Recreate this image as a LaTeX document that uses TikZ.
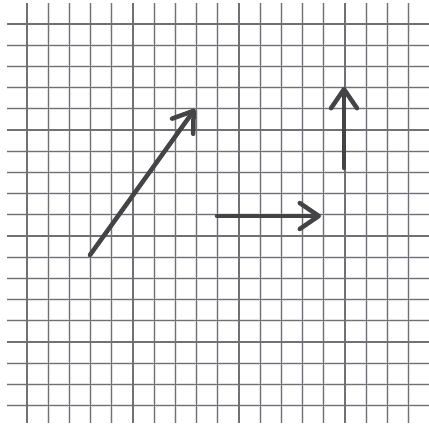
\documentclass[tikz,border=0pt]{standalone}
\usetikzlibrary{arrows.meta}
\definecolor{cGrid}{HTML}{707075}
\definecolor{cHalo}{HTML}{E0E0E3}
\definecolor{cVec}{HTML}{444446}

\begin{document}
\begin{tikzpicture}[
  x=0.05cm, y=-0.05cm,
  halo/.style={draw=cHalo, line width=4.2pt},
  gridln/.style={draw=cGrid, line width=1.8pt},
  vec/.style={draw=cVec, line width=6.4pt, line cap=round,
              -{Straight Barb[length=9.5mm, width=13mm, line cap=round, line join=round]}},
]
\useasboundingbox[fill=white] (0,0) rectangle (429,423);

% ---------------- squared paper ----------------
\foreach \k in {0,...,18} {
  \draw[halo] ({27+21.2*\k},3) -- ({27+21.2*\k},423);
  \draw[halo] (7,{24+21.2*\k}) -- (429,{24+21.2*\k});
}
\foreach \k in {0,...,18} {
  \draw[gridln] ({27+21.2*\k},3) -- ({27+21.2*\k},423);
  \draw[gridln] (7,{24+21.2*\k}) -- (429,{24+21.2*\k});
}

% ---------------- vectors ----------------
\coordinate (diagS) at (90,255);
\coordinate (diagE) at (195,109);
\coordinate (horS) at (217,216);
\coordinate (horE) at (321,216);
\coordinate (verS) at (344,168);
\coordinate (verE) at (344,87);

\draw[vec] (diagS) -- (diagE);
\draw[vec] (horS) -- (horE);
\draw[vec] (verS) -- (verE);

\end{tikzpicture}
\end{document}
